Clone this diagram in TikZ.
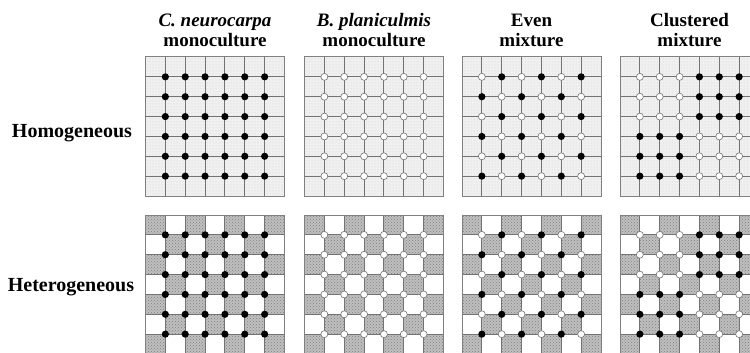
\documentclass[tikz,border=0pt]{standalone}
\usepackage{fontspec}
\setmainfont{Liberation Serif}
\usetikzlibrary{patterns}
\tikzset{
  lbl/.style={font=\fontsize{20}{22}\selectfont\bfseries, anchor=base, inner sep=0pt},
  hdr/.style={font=\fontsize{19}{20}\selectfont\bfseries, align=center, anchor=base, inner sep=0pt},
  gline/.style={draw=black!55, line width=0.9pt},
  frame/.style={draw=black!50, line width=1pt},
  homo/.style={fill=black!6},
  homodots/.style={pattern=dots, pattern color=black!18},
  hatch/.style={fill=black!25},
  hatchdots/.style={pattern=crosshatch dots, pattern color=black!50},
  bdot/.style={fill=black},
  wdot/.style={fill=white, draw=black!55, line width=0.6pt},
}
\newcommand\mygrid[4]{%
  \begin{scope}[shift={(#1,#2)}]
    \ifnum#3=0
      \fill[homo] (0,0) rectangle (139,139);
      \fill[homodots] (0,0) rectangle (139,139);
    \else
      \fill[white] (0,0) rectangle (139,139);
      \foreach \i in {0,...,6}{\foreach \j in {0,...,6}{%
        \pgfmathtruncatemacro\p{mod(\i+\j,2)}%
        \ifnum\p=0
          \fill[hatch] (\i*139/7,\j*139/7) rectangle ++(139/7,139/7);
          \fill[hatchdots] (\i*139/7,\j*139/7) rectangle ++(139/7,139/7);
        \fi}}
    \fi
    \foreach \k in {1,...,6}{%
      \draw[gline] (\k*139/7,0) -- (\k*139/7,139);
      \draw[gline] (0,\k*139/7) -- (139,\k*139/7);}
    \draw[frame] (0,0) rectangle (139,139);
    \foreach \r in {1,...,6}{\foreach \c in {1,...,6}{%
      \ifcase#4 \def\b{1}\or \def\b{0}\or
        \pgfmathtruncatemacro\b{mod(\r+\c,2)}\or
        \pgfmathtruncatemacro\b{notequal(\r<4,\c<4)}\fi
      \ifnum\b=1
        \fill[bdot] (\c*139/7,\r*139/7) circle[radius=3.6pt];
      \else
        \filldraw[wdot] (\c*139/7,\r*139/7) circle[radius=3.5pt];
      \fi}}
  \end{scope}}
\begin{document}
\begin{tikzpicture}[x=1pt,y=-1pt]
\clip (0,0) rectangle (750,353);
\fill[white] (0,0) rectangle (750,353);
% headers
\node[hdr] (h1) at (215,47) {\textit{C. neurocarpa}\\monoculture};
\node[hdr] (h2) at (374,47) {\textit{B. planiculmis}\\monoculture};
\node[hdr] (h3) at (531.5,47) {Even\\mixture};
\node[hdr] (h4) at (689.5,47) {Clustered\\mixture};
% row labels
\node[lbl] (r1) at (72,137) {Homogeneous};
\node[lbl] (r2) at (71,291) {Heterogeneous};
% grids
\mygrid{145.5}{57}{0}{0}
\mygrid{304.5}{57}{0}{1}
\mygrid{462}{57}{0}{2}
\mygrid{620}{57}{0}{3}
\mygrid{145.5}{215}{1}{0}
\mygrid{304.5}{215}{1}{1}
\mygrid{462}{215}{1}{2}
\mygrid{620}{215}{1}{3}
\end{tikzpicture}
\end{document}
